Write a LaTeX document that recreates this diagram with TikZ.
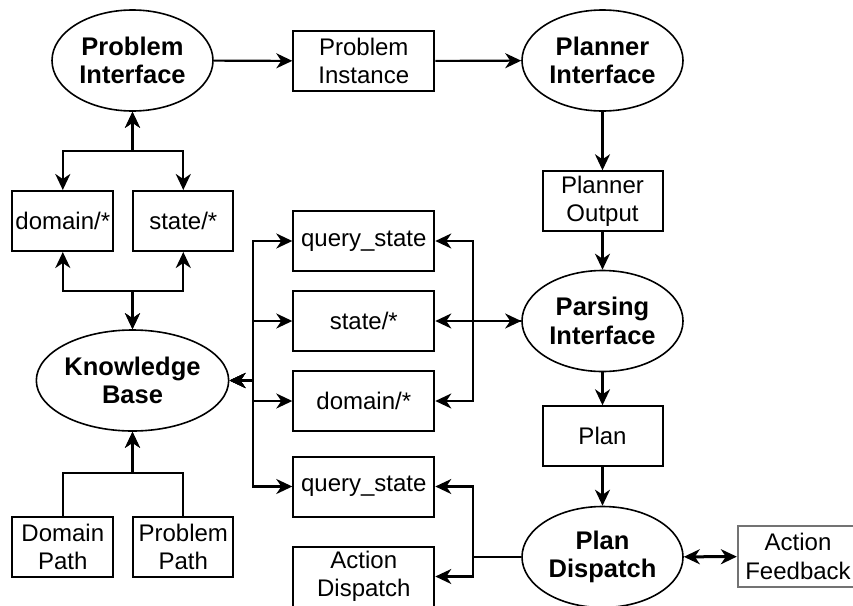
\documentclass[tikz,border=0pt]{standalone}
\usepackage{fontspec}
\setmainfont{Liberation Sans}
\usetikzlibrary{arrows.meta,shapes.geometric}
\begin{document}
\begin{tikzpicture}[x=1pt,y=-1pt,
  every node/.style={font=\fontsize{24}{28.5}\selectfont, align=center, inner sep=0pt},
  box/.style={draw=black, line width=2pt, rectangle, minimum width=#1, minimum height=60pt},
  box/.default=141pt,
  greybox/.style={draw=black!55, line width=2.3pt, rectangle, minimum width=120pt, minimum height=61pt},
  oval/.style={draw=black, line width=1.6pt, ellipse, minimum width=161pt, minimum height=101pt, font=\fontsize{25.5}{28.5}\selectfont\bfseries},
  tipk/.style={Stealth[length=16pt,width=15pt,inset=5pt]},
  arr/.style={line width=2.1pt, -{Stealth[length=16pt,width=15pt,inset=5pt]}},
  dbl/.style={line width=2.1pt, {Stealth[length=16pt,width=15pt,inset=5pt]}-{Stealth[length=16pt,width=15pt,inset=5pt]}}
]
\path[use as bounding box, clip] (0,0) rectangle (853,605);

% interfaces
\node[oval] (PI)  at (132.5,60.5) {Problem\\Interface};
\node[oval] (PlI) at (602.5,60.5) {Planner\\Interface};
\node[oval] (KB)  at (132.5,380.5) {Knowledge\\Base};
\node[oval] (PaI) at (602.5,321) {Parsing\\Interface};
\node[oval] (PD)  at (602.5,557) {Plan\\Dispatch};

% data boxes
\node[box] (PInst) at (363.8,61) {Problem\\Instance};
\node[box=120pt] (PO) at (602.5,201.3) {Planner\\Output};
\node[box=101pt] (D1) at (62.8,221) {domain/*};
\node[box=100pt] (S1) at (183.3,221) {state/*};
\node[box] (Q1) at (363.8,241) {query\_state};
\node[box] (S2) at (363.8,321) {state/*};
\node[box] (D2) at (363.8,401) {domain/*};
\node[box] (Q2) at (363.8,486.5) {query\_state};
\node[box] (AD) at (363.8,576.5) {Action\\Dispatch};
\node[box=101pt] (DP) at (62.8,547) {Domain\\Path};
\node[box=100pt] (PP) at (183.3,547) {Problem\\Path};
\node[box=120pt] (Plan) at (602.5,436.3) {Plan};
\node[greybox] (AF) at (798,556.5) {Action\\Feedback};

% junction points
\coordinate (jPb) at (132.5,151);
\coordinate (jKt) at (132.5,291);
\coordinate (jKb) at (132.5,473.3);
\coordinate (jK)  at (253.3,380.5);
\coordinate (jP)  at (473.3,321);
\coordinate (jR)  at (473.3,557);

% main pipeline
\draw[arr] (PI) -- (PInst);
\draw[arr] (PInst) -- (PlI);
\draw[arr] (PlI) -- (PO);
\draw[arr] (PO) -- (PaI);
\draw[arr] (PaI) -- (Plan);
\draw[arr] (Plan) -- (PD);
\draw[dbl, line width=3pt] (PD) -- (AF);

% problem interface <-> knowledge items
\draw[dbl] (PI.south) -- (jPb) -| (D1.north);
\draw[dbl] (PI.south) -- (jPb) -| (S1.north);
\draw[dbl] (KB.north) -- (jKt) -| (D1.south);
\draw[dbl] (KB.north) -- (jKt) -| (S1.south);

% file paths into the knowledge base
\draw[arr] (DP.north) |- (jKb) -- (KB.south);
\draw[arr] (PP.north) |- (jKb) -- (KB.south);

% knowledge base services
\draw[dbl] (KB.east) -- (jK) |- (Q1.west);
\draw[dbl] (KB.east) -- (jK) |- (S2.west);
\draw[dbl] (KB.east) -- (jK) |- (D2.west);
\draw[dbl] (KB.east) -- (jK) |- (Q2.west);

% parsing interface clients
\draw[dbl] (S2.east) -- (PaI.west);
\draw[arr] (PaI.west) -- (jP) |- (Q1.east);
\draw[arr] (PaI.west) -- (jP) |- (D2.east);

% plan dispatch clients
\draw[arr] (PD.west) -- (jR) |- (Q2.east);
\draw[arr] (PD.west) -- (jR) |- (AD.east);
\end{tikzpicture}
\end{document}
